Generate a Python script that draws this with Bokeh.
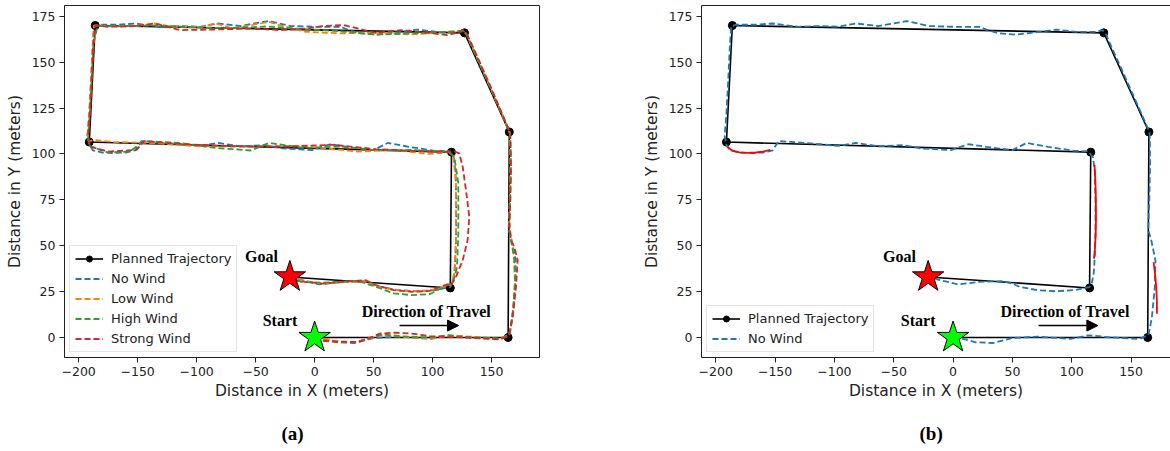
from bokeh.plotting import figure
from bokeh.models import (Range1d, FixedTicker, CustomJSTickFormatter, Legend, LegendItem,
                          Arrow, NormalHead, Title, LinearAxis)
from bokeh.layouts import row
from bokeh.embed import file_html
from bokeh.resources import INLINE
from bokeh.core.properties import value

# ---------------- data ----------------
planned_x = [0, 164, 165, 127, -186, -191, 116, 115, -21]
planned_y = [0, 0, 112, 166, 170, 106.5, 101, 27, 33]

start_xy = (0, 0)
goal_xy = (-21, 33)

# No Wind (blue)
nw_x = [0, 7, 19, 34, 50, 71, 99, 114, 132, 157, 164.5,
        165.5, 167.5, 170, 170.5, 167, 164.5, 165.3, 166, 165.8, 165.5,
        158, 149, 140, 133, 129, 126,
        120, 104, 87, 72, 53, 38, 28, 22, 1, -20, -30, -39, -51, -63, -82, -97, -112, -131, -152, -167, -183, -187,
        -188, -189.5, -191, -192.5, -191,
        -188, -180, -170, -160, -152, -147, -137, -112, -97, -82, -63, -42, -27, -2, 13, 28, 50, 62, 80, 102, 114,
        118, 119.5, 120, 120, 119.5, 118.5, 117, 115,
        102, 86, 71, 56, 50, 41, 22, 4, -11, -21]
nw_y = [0, -0.5, -2.6, -3, -0.3, 0.5, -0.8, 1.2, 0.1, -0.8, 1.4,
        4, 11, 27.6, 42, 53, 58.5, 74.8, 93, 107.6, 112,
        123, 136, 149, 159, 165, 167.5,
        166.5, 166.5, 167.8, 166.5, 165, 165.8, 167.8, 169.3, 169.3, 169.7, 171.1, 172.4, 171.1, 169.7, 171.1, 169.3, 169.7, 169.3, 171.1, 170.4, 170.4, 169.5,
        160, 140, 122, 110, 105,
        102, 100.8, 100.5, 100.8, 102, 107, 106.6, 105.3, 104.4, 106, 104.2, 104.8, 103, 102.1, 105.3, 103.9, 102.1, 106, 103.9, 101.7, 101.5,
        98, 90, 75, 60, 45, 35, 30, 27.5,
        25.8, 25.2, 25.8, 27.6, 29.4, 30.7, 30.3, 28.9, 31.3, 32.8]

# Low Wind (orange)
lw_x = [0, 7, 19, 34, 50, 58, 75, 99, 114, 132, 157, 165,
        166, 168.5, 170, 169, 166.5, 165, 165.5, 166, 165.5,
        158, 149, 140, 133, 129, 126,
        113, 82, 52, 22, -8, -30, -39, -54, -69, -84, -96, -120, -136, -151, -175, -187,
        -188, -189.5, -191, -192.5, -191.5,
        -185, -170, -136, -96, -54, -8, 37, 67, 97, 114,
        117.7, 119.8, 119.8, 118.4, 116,
        112.5, 97.5, 82.3, 67.2, 52, 43, 24.8, 6.6, -8.5, -21]
lw_y = [0, -0.5, -2, -2.5, 0, 1.5, 0.3, -0.5, 1, 0.5, -0.8, 1.5,
        4, 16, 31, 44, 54, 63, 75, 93, 111,
        123, 136, 149, 159, 165, 167,
        166.6, 165.1, 166.2, 165.7, 166.6, 170.2, 172, 170.2, 168.4, 171.1, 169.3, 169.3, 171.1, 169.7, 169.7, 170,
        160, 140, 122, 110, 107,
        107.5, 106.5, 105.9, 104.1, 104.1, 104.1, 101.3, 102.2, 100, 101,
        98.4, 83.9, 53.2, 35, 29,
        28, 25.6, 25.3, 26, 28, 30.5, 30.3, 29.3, 30.8, 32.5]

# High Wind (green)
hw_x = [0, 6.6, 21.8, 36.9, 49, 58, 73.2, 97.5, 112.5, 127.7, 158.9, 164.8,
        165.8, 168.6, 169.8, 169.2, 166.4, 165, 165.8, 166.4, 165.8,
        157, 148.5, 139.5, 132.5, 128.5, 126,
        112, 73, 52, 20, -10, -40, -70, -100, -135, -165, -184,
        -187.5, -189, -190.5, -192, -191.5,
        -190, -175, -156.8, -144.7, -114.4, -84.2, -53.9, -38.7, -8.5, 21.8, 52, 82.3, 114,
        118.4, 121.8, 121.8, 120.7, 118.4, 115.6,
        112.5, 97.5, 82.3, 67.2, 52, 36.9, 6.6, -11.5, -20]
hw_y = [0, -1.9, -2.6, -2.4, 0.3, 1.7, 0.7, 0, 1.2, 0.3, -0.6, 1.2,
        4, 16.7, 31.2, 43.9, 53, 62.1, 74.8, 93, 111.2,
        124, 137, 150, 160, 165.5, 167,
        166.5, 165.5, 165, 167, 168, 169.5, 168.5, 169, 170, 169.5, 169.8,
        160, 140, 122, 110, 106,
        104.1, 100.8, 101.3, 107, 106, 103.3, 101.9, 106, 103.3, 104.1, 101.9, 102.2, 101.2,
        98.4, 83.9, 56.7, 38.5, 32.2, 29.4,
        28.5, 23.6, 23.1, 24, 27.6, 30.9, 29.8, 30.3, 32]

# Strong Wind (red)
sw_x = [0, 6.6, 21.8, 36.9, 49, 55.1, 67.2, 82.3, 97.5, 112.5, 127.7, 142.8, 155, 163,
        165, 167.9, 170.7, 172.1, 169.2, 166.4, 165, 165.8, 166.4, 165.8,
        157.5, 149, 140, 133, 129, 126,
        112.6, 73.2, 52, 24.8, 6.6, -5.5, -29.7, -53.9, -84.2, -114.4, -135.6, -150.8, -175, -186,
        -187.5, -189, -190.5, -192, -191,
        -190, -175, -150.8, -144.7, -114.4, -69.1, -23.6, 15.8, 52, 97.5, 113,
        118, 122.6, 125.5, 128.3, 131.1, 129.7, 125.5, 119.8, 115.6,
        112.5, 97.5, 82.3, 67.2, 52, 43, 24.8, 6.6, -8.5, -20]
sw_y = [0, -1.5, -2.4, -2.4, 0.3, 2.1, 2.6, 2.1, 0.7, 0.3, 0, -0.6, -1, 0.3,
        1.3, 11.2, 27.6, 42.1, 49.4, 53, 60.3, 74.8, 93, 111.2,
        124, 137, 150, 160, 165.5, 167,
        164.8, 167.5, 166, 170.2, 169.7, 168.4, 167.5, 168.4, 167.8, 167.5, 171.1, 169.7, 169.3, 170,
        160, 140, 122, 110, 106.9,
        104, 101.3, 102.2, 107, 105.5, 104.1, 104.1, 105, 102.6, 101.3, 101.2,
        101.5, 100.3, 93, 80.2, 65.8, 53.2, 42.1, 33, 28.5,
        29, 25.4, 24.9, 25.8, 28.5, 31.3, 30.3, 29.4, 30.3, 32]

# highlighted deviations in panel (b)
dev1_x = [-190.5, -186, -180, -173, -166, -160, -154]
dev1_y = [104, 101.8, 100.9, 100.6, 100.8, 101.3, 102.3]
dev2_x = [119.2, 119.9, 120.3, 120.4, 120.1, 119.5, 118.7]
dev2_y = [94, 85, 75, 65, 55, 48, 43]
dev3_x = [169, 170.3, 171.2, 171.7, 171.8]
dev3_y = [41, 34, 27.5, 20, 13]

x_ticks = [-200, -150, -100, -50, 0, 50, 100, 150]
y_ticks = [0, 25, 50, 75, 100, 125, 150, 175]

series_a = [("No Wind", nw_x, nw_y, "#1f77b4"),
            ("Low Wind", lw_x, lw_y, "#ff7f0e"),
            ("High Wind", hw_x, hw_y, "#2ca02c"),
            ("Strong Wind", sw_x, sw_y, "#d62728")]

# annotation positions
goal_text_xy = (-59, 44)
start_text_xy = (-44, 9.5)
dir_text_xy = (40, 14)
arrow_xs = (72, 122)
arrow_y = 6.5

FONT = "DejaVu Sans"
SERIF = "Liberation Serif"


def make_panel(width, min_left, min_right, x_end, caption, cap_offset, series, devs, border_right):
    p = figure(width=width, height=451, x_range=Range1d(-212, x_end), y_range=Range1d(-10.9, 180.9),
               output_backend="svg", toolbar_location=None,
               min_border_left=min_left, min_border_right=min_right,
               min_border_top=5, min_border_bottom=5)
    p.grid.visible = False
    p.background_fill_color = "white"
    p.border_fill_color = "white"

    xa = p.below[0]
    ya = p.left[0]
    fmt = CustomJSTickFormatter(code="return tick < 0 ? '\u2212' + Math.abs(tick) : '' + tick;")
    xa.ticker = FixedTicker(ticks=x_ticks)
    ya.ticker = FixedTicker(ticks=y_ticks)
    for ax in (xa, ya):
        ax.formatter = fmt
        ax.axis_line_color = "#222222"
        ax.major_tick_line_color = "#222222"
        ax.major_tick_out = 5
        ax.major_tick_in = 0
        ax.minor_tick_out = 0
        ax.minor_tick_in = 0
        ax.major_label_text_font = FONT
        ax.major_label_text_font_size = "12.5px"
        ax.major_label_text_color = "#222222"
        ax.major_label_standoff = 4
        ax.axis_label_text_font = FONT
        ax.axis_label_text_font_size = "15.5px"
        ax.axis_label_text_font_style = "normal"
        ax.axis_label_text_color = "#222222"
        ax.axis_label_standoff = 5
    xa.axis_label = "Distance in X (meters)"
    xa.axis_label_standoff = 3
    ya.axis_label = "Distance in Y (meters)"

    if border_right:
        p.outline_line_color = "#222222"
        p.outline_line_width = 1
    else:
        p.outline_line_color = None
        top = LinearAxis(ticker=FixedTicker(ticks=[]), major_label_text_font_size="0px",
                         major_tick_out=0, major_tick_in=0, minor_tick_out=0, minor_tick_in=0,
                         major_label_standoff=0, axis_line_color="#222222")
        p.add_layout(top, "above")

    pl_line = p.line(planned_x, planned_y, line_color="black", line_width=1.6)
    pl_pts = p.scatter(planned_x, planned_y, marker="circle", size=8, fill_color="black", line_color="black")
    items = [LegendItem(label="Planned Trajectory", renderers=[pl_line, pl_pts])]
    for name, xs, ys, col in series:
        r = p.line(xs, ys, line_color=col, line_width=1.8, line_dash="6 3")
        items.append(LegendItem(label=name, renderers=[r]))
    for dx, dy in devs:
        p.line(dx, dy, line_color="#ff0000", line_width=1.8)

    p.scatter([goal_xy[0]], [goal_xy[1]], marker="star", size=33, fill_color="#ff0000", line_color="black", line_width=1)
    p.scatter([start_xy[0]], [start_xy[1]], marker="star", size=33, fill_color="#00ff00", line_color="black", line_width=1)

    p.text(x=[goal_text_xy[0], start_text_xy[0], dir_text_xy[0]],
           y=[goal_text_xy[1], start_text_xy[1], dir_text_xy[1]],
           text=["Goal", "Start", "Direction of Travel"],
           text_font=value(SERIF), text_font_style="bold", text_font_size="16px",
           text_align="left", text_baseline="middle", text_color="black")
    p.add_layout(Arrow(end=NormalHead(size=11, fill_color="black", line_color="black"),
                       x_start=arrow_xs[0], y_start=arrow_y, x_end=arrow_xs[1], y_end=arrow_y,
                       line_width=1.5, line_color="black"))

    legend = Legend(items=items, location=(5, 5), margin=0,
                    label_text_font=FONT, label_text_font_size="13px", label_text_color="#222222",
                    glyph_width=28, glyph_height=15, label_height=15, spacing=5, padding=5,
                    label_standoff=8, border_line_color="#cccccc", border_line_width=1,
                    background_fill_color="white", background_fill_alpha=0.85)
    p.add_layout(legend, "center")

    # small spacer between the axis label and the caption
    p.add_layout(Title(text=" ", text_font_size="1px", standoff=8, text_color="white"), "below")
    p.add_layout(Title(text=caption, align="left", offset=cap_offset, standoff=15,
                       text_font=SERIF, text_font_style="bold", text_font_size="19px",
                       text_color="black"), "below")
    return p


p1 = make_panel(632, 64, 93, 190.6, "(a)", 217, series_a, [], True)
p2 = make_panel(538, 69, 0, 183.2, "(b)", 218, [series_a[0]],
                [(dev1_x, dev1_y), (dev2_x, dev2_y), (dev3_x, dev3_y)], False)

layout = row(p1, p2, spacing=0)
open("out.html", "w").write(file_html(layout, INLINE))
